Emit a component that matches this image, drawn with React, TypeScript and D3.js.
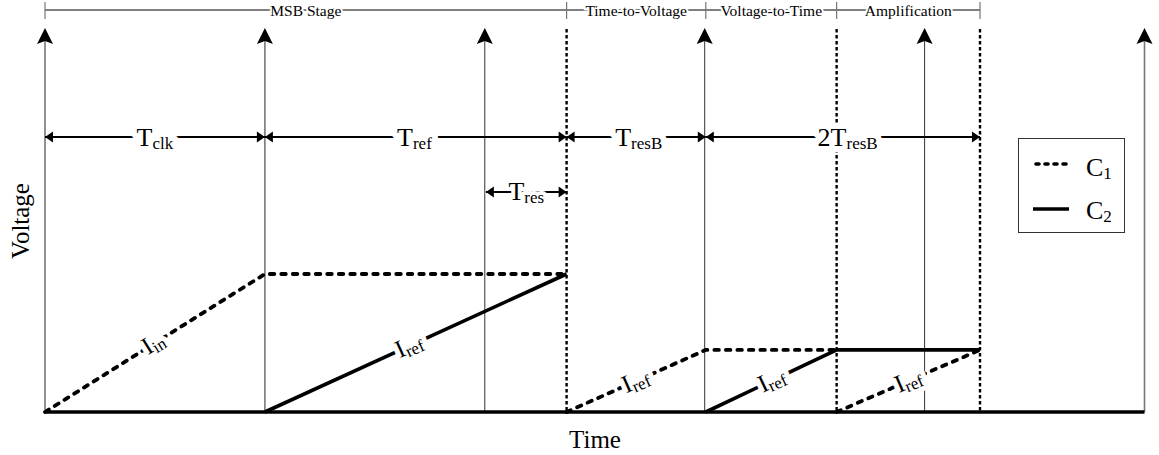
import React from "react";
import * as d3 from "d3";

// Time axis in clock periods, voltage in units of the full-scale MSB level
const clockTimes = [0, 1, 2, 3, 4, 5];
const clockStrong = [true, true, false, false, false, true];
const phaseEdges = [2.372, 3.6, 4.252]; // dotted phase boundaries
const stageEdges = [0, 2.372, 3.005, 3.6, 4.252];
const stageNames = ["MSB Stage", "Time-to-Voltage", "Voltage-to-Time", "Amplification"];

// Interval annotations
const spanStarts = [0, 1, 2.372, 3.005];
const spanEnds = [1, 2.372, 3.005, 4.252];
const spanMain = ["T", "T", "T", "2T"];
const spanSub = ["clk", "ref", "resB", "resB"];
const spanLabelAt = [0.5, 1.68, 2.7, 3.65];
const resSpan = [2.005, 2.372];

// Capacitor voltages, as polylines of [time, voltage]
const c1Segments: [number, number][][] = [
  [[0, 0], [1, 1], [2.372, 1]],
  [[2.372, 0], [3.005, 0.45], [3.6, 0.45]],
  [[3.6, 0], [4.252, 0.45]],
];
const c2Segments: [number, number][][] = [
  [[0, 0], [5, 0]],
  [[1, 0], [2.372, 1]],
  [[3.005, 0], [3.6, 0.45], [4.252, 0.45]],
];

// Current labels placed on the ramps: series, segment index, time
const rampLabelSeries = ["c1", "c2", "c1", "c2", "c1"];
const rampLabelSeg = [0, 1, 1, 2, 2];
const rampLabelTime = [0.51, 1.67, 2.7, 3.32, 3.94];
const rampLabelSub = ["in", "ref", "ref", "ref", "ref"];

const W = 1159;
const H = 455;
const FONT = "'Liberation Serif', 'Times New Roman', serif";

const x = d3.scaleLinear().domain([0, 5]).range([45, 1144.5]);
const y = d3.scaleLinear().domain([0, 1]).range([412, 274]);
const line = d3
  .line<[number, number]>()
  .x((d) => x(d[0]))
  .y((d) => y(d[1]));

function DimArrow({ x0, x1, yy }: any) {
  const L = 8;
  const h = 5.5;
  return (
    <g>
      <line x1={x0} x2={x1} y1={yy} y2={yy} stroke="#000" strokeWidth={2} />
      <path d={`M${x0},${yy}L${x0 + L},${yy - h}L${x0 + L},${yy + h}Z`} fill="#000" />
      <path d={`M${x1},${yy}L${x1 - L},${yy - h}L${x1 - L},${yy + h}Z`} fill="#000" />
    </g>
  );
}

// Main text with a subscript; a white copy underneath clears the line it sits on
function SubText({ cx, cy, main, sub, size = 26, subSize = 17, rotate = 0, haloW = 12 }: any) {
  const tf = rotate ? `rotate(${rotate},${cx},${cy})` : undefined;
  const body = (
    <>
      {main}
      <tspan fontSize={subSize} dy={3}>
        {sub}
      </tspan>
    </>
  );
  return (
    <g transform={tf}>
      <text x={cx} y={cy} fontFamily={FONT} fontSize={size} textAnchor="middle" fill="#fff" stroke="#fff" strokeWidth={haloW} strokeLinejoin="round">
        {body}
      </text>
      <text x={cx} y={cy} fontFamily={FONT} fontSize={size} textAnchor="middle" fill="#000">
        {body}
      </text>
    </g>
  );
}

export default function App() {
  const segs: any = { c1: c1Segments, c2: c2Segments };
  const pointOn = (pts: [number, number][], t: number) => {
    for (let i = 0; i < pts.length - 1; i++) {
      const a = pts[i];
      const b = pts[i + 1];
      if (t >= a[0] && t <= b[0]) {
        const f = (t - a[0]) / (b[0] - a[0]);
        const v = a[1] + f * (b[1] - a[1]);
        const ang = (Math.atan2(y(b[1]) - y(a[1]), x(b[0]) - x(a[0])) * 180) / Math.PI;
        return { px: x(t), py: y(v), ang };
      }
    }
    return { px: x(t), py: y(0), ang: 0 };
  };

  return (
    <svg width={W} height={H} style={{ position: "absolute", left: 0, top: 0, background: "#fff" }}>
      {/* phase bar along the top */}
      <line x1={x(stageEdges[0])} x2={x(stageEdges[stageEdges.length - 1])} y1={10} y2={10} stroke="#000" strokeWidth={1.2} />
      {stageEdges.map((e, i) => (
        <line key={"st" + i} x1={x(e)} x2={x(e)} y1={2} y2={19} stroke="#777" strokeWidth={1.2} />
      ))}
      {stageNames.map((n, i) => {
        const cx = (x(stageEdges[i]) + x(stageEdges[i + 1])) / 2;
        return (
          <g key={"sn" + i}>
            <text x={cx} y={15.5} fontFamily={FONT} fontSize={15.5} textAnchor="middle" fill="#fff" stroke="#fff" strokeWidth={4}>
              {n}
            </text>
            <text x={cx} y={15.5} fontFamily={FONT} fontSize={15.5} textAnchor="middle" fill="#000">
              {n}
            </text>
          </g>
        );
      })}

      {/* clock edges */}
      {clockTimes.map((t, i) => {
        const cx = x(t);
        return (
          <g key={"ck" + i}>
            <line
              x1={cx}
              x2={cx}
              y1={40}
              y2={412}
              stroke={clockStrong[i] ? "#777" : "#333"}
              strokeWidth={clockStrong[i] ? 1.6 : 1}
            />
            <path d={`M${cx},28L${cx + 8},44L${cx},41L${cx - 8},44Z`} fill="#000" />
          </g>
        );
      })}

      {/* phase boundaries */}
      {phaseEdges.map((t, i) => (
        <line
          key={"ph" + i}
          x1={x(t)}
          x2={x(t)}
          y1={29}
          y2={412}
          stroke="#000"
          strokeWidth={2.4}
          strokeDasharray="3.5,2.5"
        />
      ))}

      {/* interval annotations */}
      {spanStarts.map((s, i) => (
        <DimArrow key={"sp" + i} x0={x(s)} x1={x(spanEnds[i])} yy={137} />
      ))}
      {spanMain.map((m, i) => (
        <SubText key={"sl" + i} cx={x(spanLabelAt[i])} cy={146} main={m} sub={spanSub[i]} />
      ))}
      <DimArrow x0={x(resSpan[0])} x1={x(resSpan[1])} yy={192} />
      <SubText cx={(x(resSpan[0]) + x(resSpan[1])) / 2} cy={200} main="T" sub="res" haloW={8} />

      {/* capacitor voltages */}
      {c2Segments.map((s, i) => (
        <path key={"c2" + i} d={line(s) || ""} fill="none" stroke="#000" strokeWidth={3.6} strokeLinejoin="round" />
      ))}
      {c1Segments.map((s, i) => (
        <path
          key={"c1" + i}
          d={line(s) || ""}
          fill="none"
          stroke="#000"
          strokeWidth={3.8}
          strokeDasharray="4.5,7"
          strokeLinecap="round"
        />
      ))}
      {rampLabelTime.map((t, i) => {
        const p = pointOn(segs[rampLabelSeries[i]][rampLabelSeg[i]], t);
        return (
          <SubText
            key={"rl" + i}
            cx={p.px}
            cy={p.py + 8}
            main="I"
            sub={rampLabelSub[i]}
            rotate={p.ang}
            size={25}
            subSize={17}
            haloW={10}
          />
        );
      })}

      {/* legend */}
      <rect x={1018.5} y={138.5} width={106} height={94} fill="#fff" stroke="#333" strokeWidth={1} />
      <line x1={1036} x2={1066} y1={164} y2={164} stroke="#000" strokeWidth={3.6} strokeDasharray="3,6" strokeLinecap="round" />
      <line x1={1033} x2={1069} y1={209} y2={209} stroke="#000" strokeWidth={3.6} />
      <text x={1086} y={176} fontFamily={FONT} fontSize={26}>
        C<tspan fontSize={17} dy={3}>1</tspan>
      </text>
      <text x={1086} y={219} fontFamily={FONT} fontSize={26}>
        C<tspan fontSize={17} dy={3}>2</tspan>
      </text>

      {/* axis titles */}
      <text x={595} y={448} fontFamily={FONT} fontSize={25} textAnchor="middle">
        Time
      </text>
      <text x={29} y={221} fontFamily={FONT} fontSize={25} textAnchor="middle" transform="rotate(-90,29,221)">
        Voltage
      </text>
    </svg>
  );
}
